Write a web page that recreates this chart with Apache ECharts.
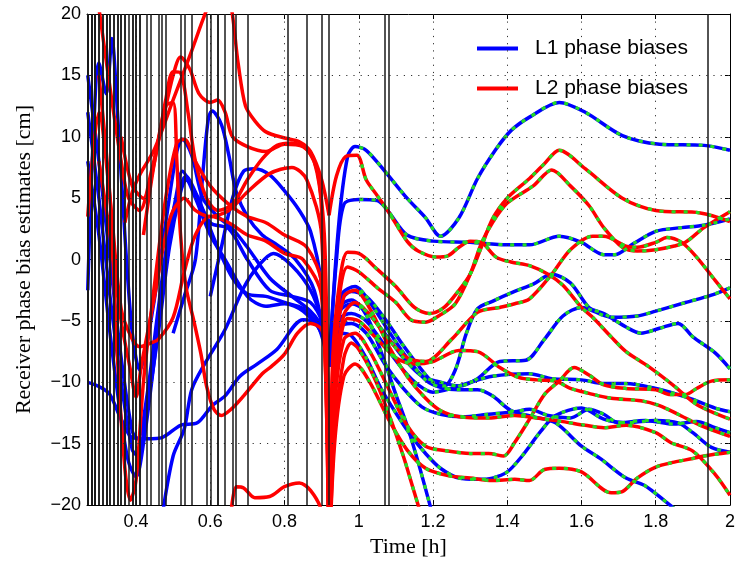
<!DOCTYPE html>
<html><head><meta charset="utf-8">
<script src="https://cdn.jsdelivr.net/npm/echarts@6/dist/echarts.min.js"></script>
<style>html,body{margin:0;padding:0;background:#fff}#c{width:738px;height:563px}</style>
</head><body><div id="c"></div>
<script>
// ---- axis ----
const xMin = 0.268;
const xTicks = [0.4, 0.6, 0.8, 1, 1.2, 1.4, 1.6, 1.8, 2];
const yTicks = [-20, -15, -10, -5, 0, 5, 10, 15, 20];
const legendNames = ['L1 phase biases', 'L2 phase biases'];

// ---- reset epochs (vertical lines), hours ----
const resetTimes = [0.2685,0.2695,0.2705,0.2715,0.2725,0.2735,0.2745,0.2755,0.2765,0.2775,0.2785,0.2795,0.2805,0.2815,0.2825,0.2835,0.2845,0.2855,0.2865,0.2875,0.2885,
  0.292,0.297,0.302,0.307,0.311,0.315,0.319,0.323,0.328,0.334,0.338,0.342,0.346,0.350,
  0.356,0.362,0.369,0.374,0.377,0.386,0.391,0.396,0.404,0.409,0.415,0.428,0.442,0.455,
  0.468,0.482,0.522,0.530,0.549,0.589,0.603,0.616,0.624,0.643,0.659,0.672,0.699,
  0.812,0.858,0.901,0.922,1.067,1.081,1.937];

// ---- L1 (blue), before the 0.92 h reset ----
const l1Left1 = [[0.27,-2.5],[0.285,10],[0.3,16],[0.32,13.5],[0.335,18],[0.35,12],[0.37,2],[0.39,-6],[0.41,-9],[0.44,-5],[0.48,3],[0.51,8.8],[0.525,9.8],[0.55,8.5],[0.58,5],[0.62,3.5],[0.66,2.5],[0.7,1],[0.76,-1.5],[0.82,-3],[0.87,-4.2],[0.9,-5.5],[0.92,-8.7]];
const l1Left2 = [[0.27,8],[0.3,2],[0.33,-6],[0.36,-13],[0.38,-16.5],[0.4,-17.7],[0.42,-15],[0.45,-8],[0.48,0],[0.51,5.5],[0.525,7.2],[0.55,6],[0.58,4],[0.62,1],[0.66,-1.5],[0.7,-2.8],[0.75,-3],[0.8,-3.5],[0.85,-4],[0.9,-5.8],[0.92,-8.7]];
const l1Left3 = [[0.27,12],[0.3,5],[0.33,-3],[0.36,-10],[0.39,-15.5],[0.405,-16],[0.43,-12],[0.46,-6],[0.49,1],[0.52,5.5],[0.535,6.5],[0.56,5],[0.6,2],[0.64,0],[0.7,-3],[0.75,-3.8],[0.8,-3.6],[0.85,-4.2],[0.9,-6],[0.92,-8.7]];
const l1Left4 = [[0.27,15],[0.3,8],[0.33,0],[0.36,-8],[0.39,-14],[0.405,-14.6],[0.43,-11],[0.46,-4],[0.49,2.5],[0.52,6],[0.535,6.8],[0.56,5.5],[0.6,3],[0.65,2.5],[0.7,0],[0.76,-2.5],[0.82,-3],[0.87,-3.5],[0.9,-5],[0.92,-8.7]];
const l1Left5 = [[0.27,-10],[0.29,-10.2],[0.31,-10.5],[0.33,-11],[0.36,-13],[0.39,-14.5],[0.43,-14.6],[0.47,-14.5],[0.52,-13.5],[0.565,-13.3],[0.605,-11.9],[0.64,-11.1],[0.68,-9.5],[0.727,-8.5],[0.78,-7.3],[0.85,-4.9],[0.887,-5.2],[0.92,-8.7]];
const l1Left6 = [[0.47,-21],[0.5,-16],[0.53,-13.8],[0.55,-10.6],[0.585,-8.5],[0.64,-5.7],[0.69,-2.3],[0.73,-0.5],[0.77,0.5],[0.82,-0.5],[0.87,-2.5],[0.9,-5],[0.92,-8.7]];
const l1Left7 = [[0.5,-6],[0.53,-3],[0.56,0],[0.58,7],[0.595,11.5],[0.605,12.1],[0.63,11],[0.65,8.5],[0.67,5.5],[0.7,3.5],[0.74,2],[0.78,1.2],[0.83,0],[0.88,-2.5],[0.92,-8.7]];
const l1Left8 = [[0.6,-3],[0.63,1],[0.66,5],[0.69,7.2],[0.72,7.4],[0.76,6.9],[0.8,5.6],[0.84,4.0],[0.87,2.3],[0.9,-2],[0.92,-8.7]];

// ---- L1 (blue), after the 0.92 h reset ----
const l1Right1 = [[0.92,-8.7],[0.945,2.5],[0.97,8.4],[0.99,9.2],[1.02,8.9],[1.07,7.2],[1.13,5.0],[1.18,3.4],[1.22,1.9],[1.27,3.4],[1.32,6.6],[1.37,9.0],[1.41,10.5],[1.46,11.6],[1.54,12.8],[1.61,12.0],[1.71,10.1],[1.81,9.4],[1.93,9.3],[2.0,8.9]];
const l1Right2 = [[0.92,-8.7],[0.94,0],[0.96,4.5],[1.0,4.9],[1.05,4.8],[1.08,3.9],[1.13,2.0],[1.2,1.5],[1.3,1.4],[1.4,1.2],[1.46,1.2],[1.54,1.9],[1.6,1.4],[1.66,0.4],[1.69,0.4],[1.74,1.3],[1.8,2.3],[1.87,2.6],[1.93,2.8],[2.0,3.3]];
const l1Right3 = [[0.92,-8.7],[0.95,-3.5],[0.98,-2.6],[1.02,-3.0],[1.07,-4.8],[1.12,-7.0],[1.17,-9.0],[1.2,-10.0],[1.23,-10.3],[1.26,-9.0],[1.29,-6.0],[1.32,-4.0],[1.36,-3.4],[1.42,-2.6],[1.47,-2.0],[1.52,-1.2],[1.57,-1.9],[1.62,-3.9],[1.66,-4.4],[1.72,-5.5],[1.76,-6.0],[1.81,-5.6],[1.86,-5.2],[1.9,-6.3],[1.96,-7.6],[2.0,-8.9]];
const l1Right4 = [[0.92,-8.7],[0.95,-4.2],[0.98,-3.6],[1.02,-4.2],[1.07,-6.0],[1.12,-8.0],[1.17,-9.5],[1.21,-9.9],[1.27,-10.3],[1.32,-9.7],[1.38,-8.3],[1.45,-8.2],[1.5,-6.5],[1.55,-4.6],[1.6,-3.9],[1.68,-4.7],[1.75,-4.6],[1.8,-4.2],[1.88,-3.5],[1.95,-2.9],[2.0,-2.3]];
const l1Right5 = [[0.92,-8.7],[0.95,-4.8],[0.98,-4.4],[1.02,-5.0],[1.07,-7.0],[1.12,-9.0],[1.16,-10.2],[1.2,-10.8],[1.25,-10.5],[1.3,-10.0],[1.36,-9.5],[1.46,-9.3],[1.52,-9.7],[1.6,-9.8],[1.66,-10.1],[1.72,-10.1],[1.8,-10.5],[1.86,-11.0],[1.9,-11.4],[1.96,-12.1],[2.0,-12.4]];
const l1Right6 = [[0.92,-8.7],[0.95,-5.5],[0.98,-5.2],[1.02,-6.0],[1.07,-8.5],[1.12,-10.5],[1.17,-12.0],[1.22,-12.6],[1.28,-12.8],[1.35,-12.6],[1.42,-12.4],[1.46,-12.2],[1.51,-12.7],[1.57,-12.9],[1.62,-12.2],[1.66,-12.6],[1.7,-13.3],[1.77,-13.1],[1.85,-13.4],[1.91,-13.2],[1.96,-13.7],[2.0,-14.1]];
const l1Right7 = [[0.92,-8.7],[0.95,-6.0],[0.98,-6.2],[1.02,-8.0],[1.06,-10.5],[1.1,-12.5],[1.14,-14.3],[1.18,-15.8],[1.22,-17.0],[1.27,-17.8],[1.32,-17.9],[1.36,-17.8],[1.4,-17.3],[1.44,-16.0],[1.49,-14.0],[1.53,-12.7],[1.6,-12.1],[1.66,-13.0],[1.72,-13.3],[1.8,-13.1],[1.86,-13.3],[1.9,-14.1],[1.95,-15.3],[2.0,-15.7]];
const l1Right8 = [[0.92,-8.7],[0.955,-2.8],[0.99,-2.2],[1.03,-3.5],[1.08,-5.8],[1.13,-8.0],[1.18,-9.8],[1.22,-10.4],[1.27,-10.6],[1.32,-10.6],[1.36,-11.1],[1.41,-12.3],[1.47,-12.8],[1.53,-13.3],[1.6,-15.2],[1.65,-16.2],[1.72,-17.8],[1.77,-18.4],[1.83,-19.8],[1.88,-21]];
const l1Right9 = [[0.92,-8.7],[0.95,-3.8],[0.98,-3.3],[1.02,-4.5],[1.06,-7.5],[1.1,-11.0],[1.13,-13.5],[1.16,-16.5],[1.19,-19.8],[1.21,-22]];

// ---- L2 (red), before the 0.92 h reset ----
const l2Left1 = [[0.37,3],[0.39,5.5],[0.41,6.9],[0.45,9],[0.5,13],[0.55,17],[0.59,20.3],[0.62,22],[0.65,21.5],[0.675,16],[0.695,12.5],[0.72,11.3],[0.75,10.4],[0.8,9.9],[0.84,9.6],[0.87,8.8],[0.9,6.5],[0.92,3.6]];
const l2Left2 = [[0.3,20.5],[0.33,14],[0.36,8],[0.38,5],[0.41,4],[0.44,7],[0.47,11],[0.5,15],[0.52,16.5],[0.545,15.5],[0.57,13.5],[0.6,12.8],[0.62,13],[0.64,12],[0.66,10],[0.7,9.2],[0.75,8.8],[0.8,9.4],[0.85,9.2],[0.88,8.0],[0.9,4],[0.92,-25]];
const l2Left3 = [[0.36,10],[0.39,6],[0.42,5],[0.45,8],[0.48,13],[0.5,15.3],[0.52,15.2],[0.54,12],[0.56,8],[0.59,5],[0.62,4],[0.66,4.5],[0.7,6.5],[0.74,8.2],[0.78,9.3],[0.82,9.5],[0.86,9.0],[0.89,7],[0.91,0],[0.92,-25]];
const l2Left4 = [[0.42,2],[0.45,8],[0.48,12.5],[0.5,12.8],[0.51,8],[0.52,2],[0.535,-2.3],[0.555,-4.9],[0.575,-7.7],[0.59,-10.3],[0.61,-12.2],[0.63,-12.7],[0.656,-12.2],[0.69,-11.1],[0.74,-9.3],[0.765,-8.7],[0.8,-7.7],[0.835,-6.0],[0.87,-5.2],[0.9,-5.7],[0.915,-8],[0.92,-25]];
const l2Left5 = [[0.655,-21],[0.67,-18.5],[0.69,-18.6],[0.72,-19.4],[0.76,-19.3],[0.8,-18.5],[0.84,-18.2],[0.87,-18.8],[0.9,-20.5],[0.92,-25]];
const l2Left6 = [[0.3,8],[0.33,2],[0.36,-5],[0.385,-9],[0.4,-11.2],[0.415,-8.5],[0.45,-3],[0.48,2],[0.5,4],[0.53,5],[0.56,4],[0.6,3.5],[0.65,4],[0.7,5.5],[0.76,7],[0.82,7.5],[0.86,6.5],[0.9,2],[0.92,-25]];
const l2Left7 = [[0.27,3.5],[0.3,12],[0.33,5],[0.36,-4],[0.39,-6.5],[0.41,-7.1],[0.44,-6.8],[0.46,-6.5],[0.5,-4.7],[0.53,-1],[0.56,2],[0.6,3.5],[0.65,3],[0.7,2],[0.75,1.5],[0.8,0.5],[0.85,0],[0.9,-3],[0.92,-25]];
const l2Left8 = [[0.3,15],[0.33,5],[0.35,-8],[0.37,-17],[0.385,-19.6],[0.4,-18],[0.42,-10],[0.45,-2],[0.48,5],[0.51,9.5],[0.53,9.8],[0.56,8],[0.6,6],[0.65,4.5],[0.7,3.5],[0.75,3],[0.8,2],[0.86,1],[0.9,-2],[0.92,-25]];

// ---- L2 (red), after the 0.92 h reset ----
const l2Right1 = [[0.92,-25],[0.93,-8],[0.95,-1.5],[0.97,0.6],[1.0,0.5],[1.05,-0.8],[1.1,-2.2],[1.15,-3.9],[1.19,-4.4],[1.23,-3.9],[1.27,-2.5],[1.3,-1.2],[1.33,1.0],[1.36,3.3],[1.4,5.0],[1.46,6.6],[1.5,7.8],[1.54,8.9],[1.61,7.4],[1.71,5.0],[1.8,4.0],[1.92,3.8],[2.0,3.1]];
const l2Right2 = [[0.92,-25],[0.93,-9],[0.95,-2.5],[0.97,-0.6],[1.0,-1.0],[1.05,-2.3],[1.1,-3.5],[1.14,-4.9],[1.18,-5.1],[1.22,-4.5],[1.26,-3.6],[1.3,-1.2],[1.33,1.3],[1.36,3.0],[1.4,4.6],[1.47,6.0],[1.52,7.3],[1.57,6.0],[1.62,4.4],[1.66,2.6],[1.71,1.0],[1.75,0.7],[1.8,0.8],[1.85,1.1],[1.88,1.4],[1.93,2.6],[2.0,3.9]];
const l2Right3 = [[0.92,3.6],[0.94,6.8],[0.965,8.4],[0.995,8.5],[1.02,6.5],[1.05,5.2],[1.08,3.9],[1.13,1.5],[1.16,0.7],[1.21,0.2],[1.24,0.3],[1.27,1.0],[1.3,1.5],[1.33,1.4],[1.37,0.2],[1.41,-0.2],[1.46,-0.5],[1.51,-1.2],[1.55,-2.1],[1.6,-3.9],[1.63,-4.7],[1.68,-6.3],[1.72,-7.5],[1.78,-8.7],[1.85,-10.3],[1.91,-11.8],[2.0,-13.0]];
const l2Right4 = [[0.92,-25],[0.935,-10],[0.96,-4.5],[0.99,-3.5],[1.03,-4.5],[1.08,-6.5],[1.13,-8.0],[1.18,-8.3],[1.25,-6.5],[1.32,-4.3],[1.38,-3.9],[1.42,-3.6],[1.46,-3.2],[1.52,-1.2],[1.57,0.8],[1.63,1.9],[1.66,1.9],[1.72,1.1],[1.75,1.0],[1.8,1.4],[1.83,1.8],[1.87,1.4],[1.91,0.2],[1.96,-1.7],[2.0,-3.2]];
const l2Right5 = [[0.92,-25],[0.935,-12],[0.96,-6.5],[0.99,-6.0],[1.03,-7.5],[1.08,-10.5],[1.13,-13.5],[1.18,-15.2],[1.24,-15.6],[1.3,-15.8],[1.35,-15.8],[1.39,-16.0],[1.42,-14.9],[1.46,-13.0],[1.5,-11.0],[1.54,-9.9],[1.58,-8.8],[1.62,-9.4],[1.66,-10.2],[1.72,-10.5],[1.8,-10.6],[1.84,-11.0],[1.88,-11.0],[1.91,-10.5],[1.95,-9.9],[2.0,-9.8]];
const l2Right6 = [[0.92,-25],[0.94,-9],[0.97,-4.8],[1.0,-5.0],[1.05,-6.5],[1.1,-8.0],[1.15,-8.5],[1.2,-8.3],[1.27,-7.4],[1.32,-7.5],[1.38,-8.8],[1.43,-9.6],[1.48,-9.8],[1.53,-9.9],[1.57,-10.5],[1.62,-10.9],[1.68,-11.3],[1.76,-11.5],[1.81,-11.9],[1.86,-12.6],[1.92,-13.5],[2.0,-14.4]];
const l2Right7 = [[0.92,-25],[0.935,-15],[0.96,-9.5],[0.99,-8.5],[1.03,-10],[1.08,-13],[1.13,-15.5],[1.18,-17.0],[1.24,-17.6],[1.3,-17.8],[1.36,-18.0],[1.42,-17.9],[1.46,-18.0],[1.5,-17.1],[1.54,-17.0],[1.6,-17.3],[1.68,-19.0],[1.71,-18.9],[1.75,-17.8],[1.8,-16.9],[1.85,-16.5],[1.9,-16.2],[1.93,-16.0],[2.0,-15.7]];
const l2Right8 = [[0.92,-25],[0.935,-8],[0.96,-3],[0.99,-2.5],[1.03,-4],[1.08,-7],[1.13,-9.5],[1.18,-11.3],[1.22,-12.3],[1.27,-12.8],[1.35,-12.9],[1.42,-12.7],[1.48,-12.9],[1.55,-13.2],[1.61,-13.5],[1.66,-13.7],[1.72,-13.5],[1.8,-14.1],[1.84,-14.9],[1.9,-15.6],[1.96,-17.5],[2.0,-19.2]];
const l2Right9 = [[0.92,-25],[0.935,-14],[0.96,-8],[0.98,-6.8],[1.0,-7.3],[1.04,-9.5],[1.08,-12.5],[1.12,-16],[1.15,-19],[1.17,-21]];

const l1Left = [l1Left1,l1Left2,l1Left3,l1Left4,l1Left5,l1Left6,l1Left7,l1Left8];
const l1Right = [l1Right1,l1Right2,l1Right3,l1Right4,l1Right5,l1Right6,l1Right7,l1Right8,l1Right9];
const l2Left = [l2Left1,l2Left2,l2Left3,l2Left4,l2Left5,l2Left6,l2Left7,l2Left8];
const l2Right = [l2Right1,l2Right2,l2Right3,l2Right4,l2Right5,l2Right6,l2Right7,l2Right8,l2Right9];
const fixedFrom = 1.0; // green overlay start (h)

const BLUE = '#0000ff', RED = '#ff0000', GREEN = '#22dd22';
const series = [];
// dotted grid, drawn at the tick values through the axes
series.push({ type: 'line', data: [], silent: true, z: 1, animation: false,
  markLine: { silent: true, symbol: ['none', 'none'], animation: false, label: { show: false },
    lineStyle: { color: '#333', width: 1, type: [1.2, 6] },
    data: xTicks.slice(0, -1).map(t => ({ xAxis: t })).concat(yTicks.slice(1, -1).map(v => ({ yAxis: v }))) } });
function addCurve(data, name, color) {
  series.push({ type: 'line', name, data, smooth: 0.3, symbol: 'none', showSymbol: false,
    lineStyle: { color, width: 3.5 }, itemStyle: { color }, clip: true, silent: true, z: 2, animation: false });
}
l1Left.forEach(d => addCurve(d, legendNames[0], BLUE));
l1Right.forEach(d => addCurve(d, legendNames[0], BLUE));
l2Left.forEach(d => addCurve(d, legendNames[1], RED));
l2Right.forEach(d => addCurve(d, legendNames[1], RED));
series.push({ type: 'line', data: [], silent: true, z: 4, animation: false,
  markLine: { silent: true, symbol: ['none', 'none'], animation: false, label: { show: false },
    lineStyle: { color: '#1a1a1a', width: 1.5, type: 'solid' },
    data: resetTimes.map(t => ({ xAxis: t })) } });

const fmtY = v => (v < 0 ? '\u2212' + Math.abs(v) : String(v));
const fmtX = v => String(+(+v).toFixed(1));
const tickFont = { fontFamily: 'Liberation Sans, Arial, sans-serif', fontSize: 18, color: '#000' };

const chart = echarts.init(document.getElementById('c'));
chart.setOption({
  animation: false,
  backgroundColor: '#fff',
  grid: { left: 87, right: 5, top: 14, bottom: 53 },
  legend: { data: legendNames, orient: 'vertical', left: 472, top: 33, itemWidth: 41, itemHeight: 4,
    icon: 'rect', itemGap: 19, selectedMode: false,
    textStyle: { fontFamily: 'Liberation Sans, Arial, sans-serif', fontSize: 21, color: '#000', padding: [0, 0, 0, 12] } },
  xAxis: [
    { type: 'value', min: xMin, max: xTicks[xTicks.length - 1], splitNumber: 9, position: 'bottom',
      axisLine: { show: true, onZero: false, lineStyle: { color: '#000', width: 1 } },
      axisTick: { inside: true, length: 5, lineStyle: { color: '#000' } },
      axisLabel: Object.assign({ showMinLabel: false, margin: 8, formatter: fmtX }, tickFont),
      splitLine: { show: false },
      name: 'Time [h]', nameLocation: 'middle', nameGap: 28,
      nameTextStyle: { fontFamily: 'Liberation Serif, Times New Roman, serif', fontSize: 22, color: '#000' } },
    { type: 'value', min: xMin, max: xTicks[xTicks.length - 1], splitNumber: 9, position: 'top',
      axisLine: { show: true, onZero: false, lineStyle: { color: '#000', width: 1 } },
      axisTick: { inside: true, length: 5, lineStyle: { color: '#000' } },
      axisLabel: { show: false }, splitLine: { show: false } }
  ],
  yAxis: [
    { type: 'value', min: yTicks[0], max: yTicks[yTicks.length - 1], interval: 5, position: 'left',
      axisLine: { show: true, onZero: false, lineStyle: { color: '#000', width: 1 } },
      axisTick: { inside: true, length: 5, lineStyle: { color: '#000' } },
      axisLabel: Object.assign({ margin: 6, formatter: fmtY }, tickFont),
      splitLine: { show: false },
      name: 'Receiver phase bias estimates [cm]', nameLocation: 'middle', nameGap: 52, nameRotate: 90,
      nameTextStyle: { fontFamily: 'Liberation Serif, Times New Roman, serif', fontSize: 22, color: '#000' } },
    { type: 'value', min: yTicks[0], max: yTicks[yTicks.length - 1], interval: 5, position: 'right',
      axisLine: { show: true, onZero: false, lineStyle: { color: '#000', width: 1 } },
      axisTick: { inside: true, length: 5, lineStyle: { color: '#000' } },
      axisLabel: { show: false }, splitLine: { show: false } }
  ],
  series
});

// green overlay for the fixed-ambiguity part: same curves, gradient clipped at fixedFrom
const pxFrom = chart.convertToPixel({ xAxisIndex: 0 }, fixedFrom);
const W = 738, f = Math.min(1, Math.max(0, pxFrom / W));
const greenGrad = () => new echarts.graphic.LinearGradient(0, 0, W, 0, [
  { offset: 0, color: 'rgba(34,221,34,0)' }, { offset: f, color: 'rgba(34,221,34,0)' },
  { offset: f, color: GREEN }, { offset: 1, color: GREEN }], true);
const greenSeries = [...l1Right, ...l2Right].map(d => ({ type: 'line', data: d, smooth: 0.3, symbol: 'none',
  showSymbol: false, lineStyle: { width: 3.2, type: [4, 8], color: greenGrad() }, clip: true, silent: true,
  z: 3, animation: false }));
chart.setOption({ series: series.concat(greenSeries) });
</script></body></html>
